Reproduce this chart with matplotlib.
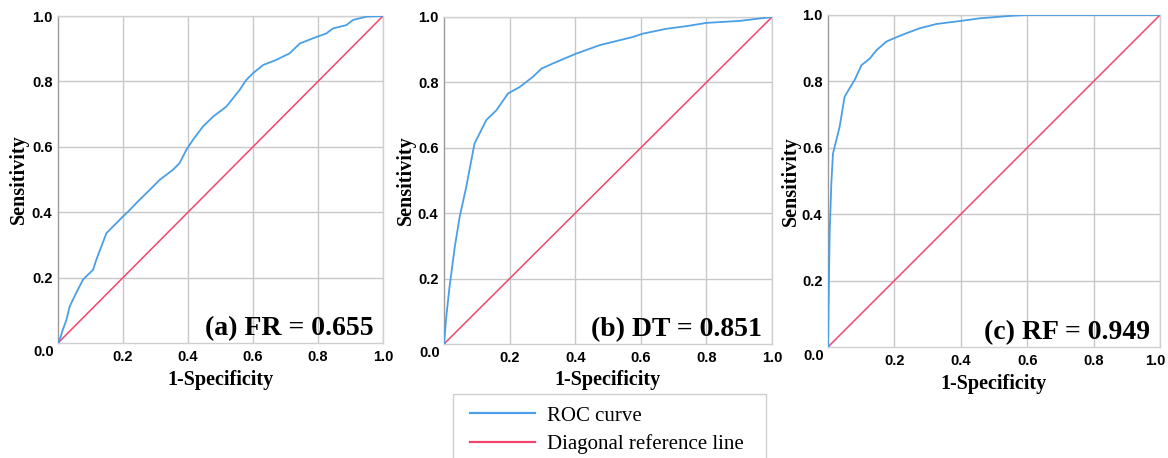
import matplotlib
matplotlib.use("Agg")
import matplotlib.pyplot as plt
import matplotlib.transforms as mtransforms
from matplotlib.lines import Line2D
from matplotlib.patches import Rectangle

# ---- data ----
fr_fpr = [0, 0.008, 0.015, 0.026, 0.036, 0.056, 0.077, 0.108, 0.118, 0.149, 0.190, 0.221, 0.241,
          0.282, 0.313, 0.354, 0.374, 0.395, 0.415, 0.446, 0.477, 0.518, 0.559, 0.579,
          0.600, 0.631, 0.672, 0.713, 0.744, 0.785, 0.826, 0.846, 0.887, 0.908, 0.949, 1.0]
fr_tpr = [0, 0.018, 0.041, 0.071, 0.112, 0.153, 0.194, 0.224, 0.255, 0.336, 0.377, 0.407, 0.428,
          0.468, 0.499, 0.530, 0.550, 0.591, 0.621, 0.662, 0.692, 0.723, 0.774, 0.804,
          0.825, 0.850, 0.866, 0.886, 0.916, 0.932, 0.947, 0.962, 0.972, 0.988, 0.998, 1.0]

dt_fpr = [0, 0.007, 0.017, 0.033, 0.048, 0.068, 0.093, 0.129, 0.160, 0.195, 0.231, 0.271,
          0.297, 0.332, 0.403, 0.475, 0.576, 0.606, 0.678, 0.739, 0.800, 0.901, 1.0]
dt_tpr = [0, 0.084, 0.176, 0.298, 0.390, 0.481, 0.613, 0.685, 0.715, 0.766, 0.786, 0.817,
          0.842, 0.858, 0.888, 0.914, 0.939, 0.949, 0.964, 0.972, 0.982, 0.988, 1.0]

rf_fpr = [0, 0.002, 0.005, 0.010, 0.015, 0.025, 0.035, 0.050, 0.065, 0.080, 0.101, 0.126,
          0.146, 0.176, 0.206, 0.236, 0.276, 0.327, 0.407, 0.457, 0.558, 0.598, 1.0]
rf_tpr = [0, 0.141, 0.342, 0.492, 0.583, 0.623, 0.663, 0.754, 0.779, 0.804, 0.849, 0.869,
          0.894, 0.920, 0.933, 0.945, 0.960, 0.973, 0.983, 0.990, 0.998, 1.0, 1.0]

diag = [0, 1]
panel_labels = ["(a) FR = 0.655", "(b) DT = 0.851", "(c) RF = 0.949"]
x_ticks = [0.2, 0.4, 0.6, 0.8, 1.0]
y_ticks = [0.2, 0.4, 0.6, 0.8, 1.0]
legend_labels = ["ROC curve", "Diagonal reference line"]

BLUE = "#4a9fe6"
RED = "#f2456c"
W, H = 1168, 458

fig = plt.figure(figsize=(W / 100, H / 100), dpi=100)

boxes = [(58, 383, 16, 343), (444, 772, 17, 344), (828, 1160, 15, 347)]
ylabel_x = [-0.089, -0.085, -0.081]
curves = [(fr_fpr, fr_tpr), (dt_fpr, dt_tpr), (rf_fpr, rf_tpr)]

serif = "Liberation Serif"
sans = "Liberation Sans"
TICK_FS = 10.5

for i, ((l, r, t, b), (xs, ys), lab) in enumerate(zip(boxes, curves, panel_labels)):
    ax = fig.add_axes([l / W, 1 - b / H, (r - l) / W, (b - t) / H])
    ax.set_xlim(0, 1)
    ax.set_ylim(0, 1)
    ax.set_xticks(x_ticks)
    ax.set_yticks(y_ticks)
    ax.set_xticklabels([f"{v:.1f}" for v in x_ticks], fontfamily=sans, fontweight="bold", fontsize=TICK_FS)
    ax.set_yticklabels([f"{v:.1f}" for v in y_ticks], fontfamily=sans, fontweight="bold", fontsize=TICK_FS)
    ax.tick_params(axis="x", length=0, pad=5)
    ax.tick_params(axis="y", length=0, pad=4)
    ax.grid(True, color="#c8c8c8", linewidth=1.0)
    ax.set_axisbelow(True)
    for s in ax.spines.values():
        s.set_color("#d0d0d0")
        s.set_linewidth(1.0)
    ax.spines["left"].set_color("#9a9a9a")
    ax.plot(diag, diag, color=RED, linewidth=1.1, zorder=3)
    ax.plot(xs, ys, color=BLUE, linewidth=1.3, zorder=4)
    ax.text(-0.012, -0.027, "0.0", transform=ax.transAxes, ha="right", va="center",
            fontfamily=sans, fontweight="bold", fontsize=TICK_FS)
    if i == 2:
        lbl = ax.get_xticklabels()[-1]
        lbl.set_transform(lbl.get_transform() + mtransforms.ScaledTranslation(-5 / 100, 0, fig.dpi_scale_trans))
    ax.set_xlabel("1-Specificity", fontfamily=serif, fontweight="bold", fontsize=14.5, labelpad=4)
    ax.set_ylabel("Sensitivity", fontfamily=serif, fontweight="bold", fontsize=14.5)
    ax.yaxis.set_label_coords(ylabel_x[i], 0.5)
    ax.text(0.97, 0.005, lab, transform=ax.transAxes, ha="right", va="bottom",
            fontfamily=serif, fontweight="bold", fontsize=20, zorder=5)

# legend frame (extends past the bottom edge as in the reference)
fig.patches.append(Rectangle((453 / W, -0.2), (766 - 453) / W, 0.2 + 1 - 394 / H,
                             transform=fig.transFigure, fill=False, edgecolor="#cfcfcf",
                             linewidth=1.0))
handles = [Line2D([], [], color=BLUE, linewidth=1.6), Line2D([], [], color=RED, linewidth=1.6)]
leg = fig.legend(handles, legend_labels, loc="upper left",
                 bbox_to_anchor=(470 / W, 1 - 406 / H), frameon=False,
                 prop={"family": serif, "size": 15}, handlelength=3.1, handletextpad=0.6,
                 borderpad=0, labelspacing=0.4, borderaxespad=0)

fig.savefig("out.png", dpi=100)
